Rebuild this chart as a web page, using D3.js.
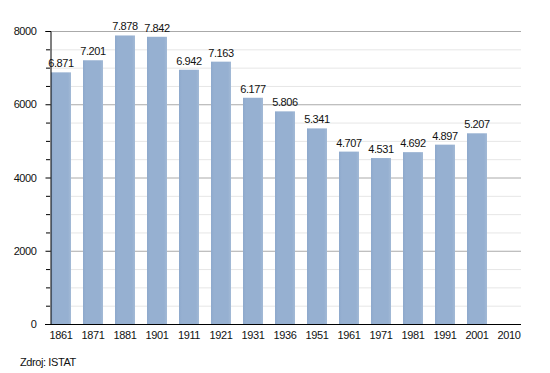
<!DOCTYPE html>
<html><head><meta charset="utf-8">
<script src="https://cdn.jsdelivr.net/npm/d3@7"></script>
<style>
body{margin:0;background:#fff;}
text{font-family:"Liberation Sans",Arial,sans-serif;letter-spacing:-0.4px;}
</style></head>
<body><svg id="c" width="550" height="373"></svg>
<script>
const years = ["1861","1871","1881","1901","1911","1921","1931","1936","1951","1961","1971","1981","1991","2001","2010"];
const population = [6871,7201,7878,7842,6942,7163,6177,5806,5341,4707,4531,4692,4897,5207,null];
const yTicks = [0,2000,4000,6000,8000];
const sourceText = "Zdroj: ISTAT";

const svg = d3.select("#c");
const mLeft = 50, mRight = 521, mTop = 31, mBottom = 324;
const x = d3.scaleBand().domain(years).range([45, 525]).paddingInner(0.375).paddingOuter(0.1875);
const y = d3.scaleLinear().domain([0, 8000]).range([mBottom, mTop]);

const defs = svg.append("defs");
const g = defs.append("linearGradient").attr("id","bg").attr("x1","0").attr("x2","1").attr("y1","0").attr("y2","0");
g.append("stop").attr("offset","0").attr("stop-color","#8ea9cc");
g.append("stop").attr("offset","0.15").attr("stop-color","#96b0d1");
g.append("stop").attr("offset","0.85").attr("stop-color","#96b0d1");
g.append("stop").attr("offset","1").attr("stop-color","#a3bad6");

// minor gridlines
const minor = d3.range(500, 8001, 500).filter(v => v % 2000 !== 0);
svg.append("g").selectAll("line").data(minor).join("line")
  .attr("x1", mLeft).attr("x2", mRight).attr("y1", d => y(d)+0.5).attr("y2", d => y(d)+0.5)
  .attr("stroke", "#e6e6e6").attr("stroke-width", 1);
// major gridlines
svg.append("g").selectAll("line").data(yTicks.filter(v=>v>0)).join("line")
  .attr("x1", mLeft).attr("x2", mRight).attr("y1", d => y(d)+0.5).attr("y2", d => y(d)+0.5)
  .attr("stroke", "#aaaaaa").attr("stroke-width", 1);

// bars
const data = years.map((yr,i)=>({yr, v: population[i]})).filter(d => d.v != null);
svg.append("g").selectAll("rect").data(data).join("rect")
  .attr("x", d => x(d.yr)).attr("width", x.bandwidth())
  .attr("y", d => y(d.v)).attr("height", d => mBottom - y(d.v))
  .attr("fill", "url(#bg)");

// value labels
const fmt = d3.formatLocale({decimal:",", thousands:".", grouping:[3], currency:["","€"]}).format(",d");
svg.append("g").selectAll("text").data(data).join("text")
  .attr("x", d => x(d.yr) + x.bandwidth()/2).attr("y", d => y(d.v) - 5)
  .attr("text-anchor","middle").attr("font-size", 11).attr("fill","#111")
  .text(d => fmt(d.v));

// y axis
const ya = svg.append("g").attr("transform", `translate(${mLeft+0.5},0)`)
  .call(d3.axisLeft(y).tickValues(yTicks).tickFormat(d3.format("d")).tickSize(5).tickPadding(9));
ya.select(".domain").attr("stroke","#000");
ya.selectAll(".tick line").attr("stroke","#000");
ya.selectAll("text").attr("font-size", 11).attr("fill","#111").attr("font-family","Liberation Sans, Arial, sans-serif");
// minor ticks
svg.append("g").selectAll("line").data(minor).join("line")
  .attr("x1", mLeft-4).attr("x2", mLeft).attr("y1", d => y(d)+0.5).attr("y2", d => y(d)+0.5)
  .attr("stroke","#000");

// x axis
const xa = svg.append("g").attr("transform", `translate(0,${mBottom+0.5})`)
  .call(d3.axisBottom(x).tickSize(0).tickPadding(7));
xa.select(".domain").attr("d", `M45,0H${mRight}`).attr("stroke","#000");
xa.selectAll("text").attr("font-size", 11).attr("fill","#111").attr("font-family","Liberation Sans, Arial, sans-serif");

svg.append("text").attr("x", 20).attr("y", 366).attr("font-size", 11).attr("fill","#111").text(sourceText);
</script></body></html>
